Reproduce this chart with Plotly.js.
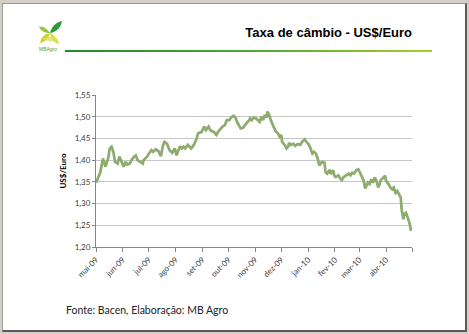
<!DOCTYPE html>
<html>
<head>
<meta charset="utf-8">
<script src="https://cdn.plot.ly/plotly-3.0.1.min.js"></script>
<style>
  html, body { margin:0; padding:0; }
  body { width:469px; height:334px; background:#d4d0c8; position:relative; overflow:hidden; }
  #slide { position:absolute; left:2px; top:3px; width:462px; height:326px; background:#fff;
           border-top:1px solid #9a9a9a; border-left:1px solid #9a9a9a; border-right:2px solid #5a5a5a; border-bottom:2px solid #5a5a5a; }
  #title { position:absolute; right:57px; top:25px; font-family:"Liberation Sans", Arial, sans-serif; font-weight:bold; font-size:13px; color:#000; white-space:nowrap; }
  #rule { position:absolute; left:65px; top:50px; width:367px; height:2px; background:linear-gradient(to right,#1f8a2e,#4fa632 50%,#a6cf2c); }
  #logo { position:absolute; left:38px; top:19px; width:26px; height:34px; }
  #logotext { position:absolute; left:39px; top:46px; font-family:"Liberation Sans", Arial, sans-serif; font-size:5px; color:#5aa02c; white-space:nowrap; }
  #source { position:absolute; left:66px; top:304px; font-family:Lato, "Open Sans", sans-serif; font-size:10.5px; color:#222; white-space:nowrap; }
  #chart { position:absolute; left:0; top:0; width:469px; height:334px; }
</style>
</head>
<body>
<div id="slide"></div>
<svg id="logo" viewBox="0 0 26 34">
  <path d="M12 14 C14 6 19 3 24 2 C23 8 19 13 12 14 Z" fill="#2f9a3a"/>
  <path d="M12 14 C8 8 4 7 1 8 C3 12 7 14 12 14 Z" fill="#9cc43a"/>
  <path d="M12 14 C6 15 3 19 2 24 C7 23 11 19 12 14 Z" fill="#c8d62e"/>
  <path d="M12 14 C16 16 20 20 21 25 C16 24 13 20 12 14 Z" fill="#e0dc3c"/>
  <path d="M5 20 C9 17 15 17 20 21 C15 23 9 23 5 20 Z" fill="#d8e05a" opacity="0.8"/>
</svg>
<div id="logotext">MBAgro</div>
<div id="title">Taxa de câmbio - US$/Euro</div>
<div id="rule"></div>
<div id="source">Fonte: Bacen, Elaboração: MB Agro</div>
<div id="chart"></div>
<script>
const dates = [
"2009-05-01","2009-05-06","2009-05-09","2009-05-12","2009-05-15","2009-05-17","2009-05-19","2009-05-21","2009-05-23","2009-05-26",
"2009-05-28","2009-05-30","2009-06-02","2009-06-04","2009-06-06","2009-06-09","2009-06-11","2009-06-14","2009-06-16","2009-06-18",
"2009-06-21","2009-06-24","2009-06-25","2009-06-29","2009-07-01","2009-07-04","2009-07-06","2009-07-09","2009-07-12","2009-07-15",
"2009-07-17","2009-07-19","2009-07-22","2009-07-25","2009-07-28","2009-07-31","2009-08-02","2009-08-04","2009-08-06","2009-08-08",
"2009-08-10","2009-08-12","2009-08-15","2009-08-17","2009-08-19","2009-08-22","2009-08-25","2009-08-27","2009-08-31","2009-09-03",
"2009-09-05","2009-09-08","2009-09-10","2009-09-14","2009-09-17","2009-09-19","2009-09-22","2009-09-24","2009-09-27","2009-09-29",
"2009-10-02","2009-10-04","2009-10-07","2009-10-09","2009-10-11","2009-10-13","2009-10-15","2009-10-18","2009-10-20","2009-10-23",
"2009-10-25","2009-10-26","2009-10-28","2009-10-30","2009-11-02","2009-11-06","2009-11-08","2009-11-10","2009-11-12","2009-11-14",
"2009-11-15","2009-11-17","2009-11-19","2009-11-21","2009-11-23","2009-11-25","2009-11-27","2009-11-29","2009-12-01","2009-12-02",
"2009-12-05","2009-12-07","2009-12-09","2009-12-10","2009-12-12","2009-12-15","2009-12-17","2009-12-20","2009-12-23","2009-12-25",
"2009-12-28","2009-12-30","2010-01-01","2010-01-03","2010-01-05","2010-01-06","2010-01-08","2010-01-10","2010-01-12","2010-01-14",
"2010-01-17","2010-01-20","2010-01-21","2010-01-23","2010-01-26","2010-01-27","2010-01-30","2010-01-31","2010-02-02","2010-02-05",
"2010-02-07","2010-02-09","2010-02-11","2010-02-14","2010-02-17","2010-02-19","2010-02-21","2010-02-23","2010-02-26","2010-02-28",
"2010-03-02","2010-03-04","2010-03-06","2010-03-08","2010-03-11","2010-03-13","2010-03-15","2010-03-17","2010-03-19","2010-03-21",
"2010-03-23","2010-03-25","2010-03-26","2010-03-29","2010-03-31","2010-04-01","2010-04-04","2010-04-06","2010-04-08","2010-04-10",
"2010-04-12","2010-04-14","2010-04-16","2010-04-18","2010-04-19","2010-04-21","2010-04-22","2010-04-24","2010-04-26","2010-04-28",
"2010-04-30"];
const rates = [
1.348,1.372,1.404,1.385,1.404,1.427,1.431,1.419,1.396,1.392,
1.408,1.400,1.385,1.396,1.390,1.392,1.400,1.408,1.411,1.400,
1.396,1.392,1.400,1.408,1.415,1.423,1.419,1.425,1.421,1.409,
1.431,1.442,1.438,1.423,1.417,1.427,1.411,1.423,1.432,1.427,
1.431,1.427,1.435,1.431,1.427,1.435,1.448,1.462,1.465,1.477,
1.469,1.477,1.469,1.465,1.458,1.465,1.473,1.477,1.481,1.492,
1.492,1.498,1.502,1.498,1.488,1.481,1.473,1.475,1.481,1.488,
1.492,1.496,1.492,1.498,1.496,1.488,1.500,1.492,1.504,1.498,
1.512,1.504,1.492,1.481,1.473,1.465,1.462,1.454,1.458,1.442,
1.435,1.427,1.431,1.440,1.435,1.438,1.433,1.437,1.435,1.442,
1.448,1.442,1.438,1.431,1.419,1.415,1.419,1.415,1.404,1.388,
1.396,1.394,1.373,1.369,1.378,1.368,1.377,1.365,1.361,1.365,
1.358,1.354,1.361,1.365,1.369,1.365,1.371,1.369,1.377,1.379,
1.371,1.365,1.354,1.335,1.348,1.345,1.356,1.348,1.360,1.352,
1.337,1.348,1.354,1.360,1.364,1.352,1.345,1.337,1.333,1.337,
1.325,1.329,1.323,1.314,1.287,1.264,1.276,1.279,1.268,1.256,
1.237];
const tickDates = ["2009-05-01","2009-06-01","2009-07-01","2009-08-01","2009-09-01","2009-10-01","2009-11-01","2009-12-01","2010-01-01","2010-02-01","2010-03-01","2010-04-01","2010-05-01"];
const tickLabels = ["mai-09","jun-09","jul-09","ago-09","set-09","out-09","nov-09","dez-09","jan-10","fev-10","mar-10","abr-10",""];
const yTicks = [1.20,1.25,1.30,1.35,1.40,1.45,1.50,1.55];

const trace = {
  x: dates, y: rates, type: "scatter", mode: "lines",
  line: { color: "#8fac6f", width: 2.75 },
  hoverinfo: "skip"
};
const layout = {
  width: 469, height: 334,
  margin: { l: 96, r: 57, t: 95, b: 87, pad: 0 },
  paper_bgcolor: "rgba(0,0,0,0)", plot_bgcolor: "rgba(0,0,0,0)",
  separators: ",.",
  showlegend: false,
  font: { family: "Lato, 'Open Sans', sans-serif", size: 8, color: "#404040" },
  xaxis: {
    type: "date", range: ["2009-05-01", "2010-05-01"],
    tickmode: "array", tickvals: tickDates, ticktext: tickLabels,
    tickangle: -45, ticks: "outside", ticklen: 4, tickcolor: "#868686", tickwidth: 1,
    showline: true, linecolor: "#868686", linewidth: 1,
    showgrid: false, zeroline: false, automargin: false,
    tickfont: { family: "Lato, 'Open Sans', sans-serif", size: 8, color: "#404040" }
  },
  yaxis: {
    range: [1.20, 1.55], tickmode: "array", tickvals: yTicks,
    tickformat: ".2f", ticks: "outside", ticklen: 3, tickcolor: "#868686",
    showline: true, linecolor: "#868686", linewidth: 1,
    showgrid: true, gridcolor: "#c6c6c6", gridwidth: 1, zeroline: false, automargin: false,
    tickfont: { family: "Lato, 'Open Sans', sans-serif", size: 8, color: "#404040" },
    title: { text: "<b>US$/Euro</b>", standoff: 6, font: { family: "Lato, 'Open Sans', sans-serif", size: 8, color: "#000" } }
  }
};
Plotly.newPlot("chart", [trace], layout, { displayModeBar: false, staticPlot: true });
</script>
</body>
</html>
